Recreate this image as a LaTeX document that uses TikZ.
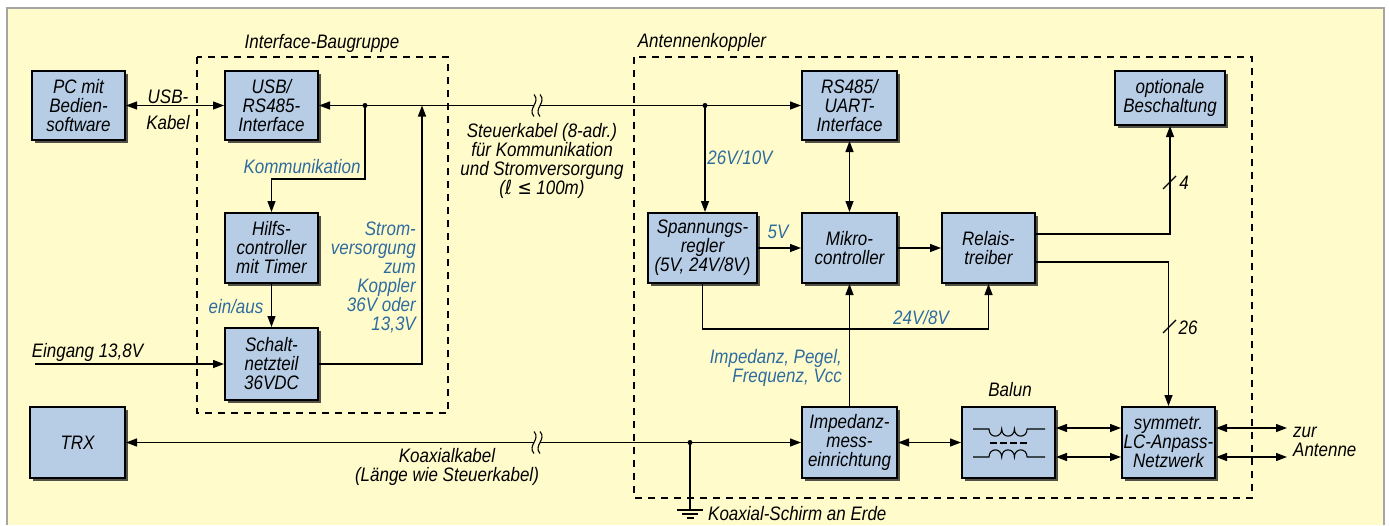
\documentclass[tikz,border=0pt]{standalone}
\usepackage{fontspec}
\setmainfont{Liberation Sans}[FakeStretch=0.87]
\newfontfamily\symfont{DejaVu Sans}[FakeStretch=0.87]
\usepackage{tikz}
\usetikzlibrary{arrows.meta,positioning,shadows,calc}
\definecolor{bgyellow}{RGB}{255,251,203}
\definecolor{boxblue}{RGB}{183,205,229}
\definecolor{lblblue}{RGB}{46,108,160}
\definecolor{framegray}{RGB}{165,165,165}

% cable interruption mark
\newcommand{\cablebreak}[2]{%
  \fill[bgyellow] (#1-3,#2-2.5) rectangle (#1+3,#2+2.5);
  \draw[line width=1.1pt] (#1-3,#2-11) .. controls (#1+4,#2-3) and (#1-10,#2+3) .. (#1-3,#2+11);
  \draw[line width=1.1pt] (#1+3,#2-11) .. controls (#1+10,#2-3) and (#1-4,#2+3) .. (#1+3,#2+11);
}

\begin{document}
\begin{tikzpicture}[x=1pt,y=-1pt,
    >={Triangle[length=11pt,width=8pt]},
    font=\fontsize{19.5}{19}\selectfont\itshape,
    blk/.style={draw=black, line width=2pt, fill=boxblue, align=center, inner sep=1pt,
        drop shadow={shadow xshift=3pt,shadow yshift=-3pt,fill=black!80,opacity=0.85}},
    wire/.style={line width=1.3pt},
    grp/.style={line width=1.2pt, dash pattern=on 7pt off 6pt},
    note/.style={inner sep=0pt, text=lblblue},
    txt/.style={inner sep=0pt}]

\useasboundingbox (0,0) rectangle (1389,525);

% =========================
% background panel
% =========================
\fill[white] (0,0) rectangle (1389,525);
\fill[bgyellow] (7,8) rectangle (1384,525);
\draw[framegray, line width=1.5pt] (7,525) -- (7,8) -- (1384,8) -- (1384,525);

% =========================
% 1. Interface-Baugruppe
% =========================
\draw[grp] (197,57) rectangle (448,413);
\node[txt] (lblifc) at (322,43) {Interface-Baugruppe};

\node[blk, minimum width=93, minimum height=69] (pc) at (78.5,105.5) {PC mit\\Bedien-\\software};
\node[blk, minimum width=93, minimum height=69] (usb) at (271.5,105.5) {USB/\\RS485-\\Interface};
\node[blk, minimum width=93, minimum height=70] (hilfs) at (271.5,248) {Hilfs-\\controller\\mit Timer};
\node[blk, minimum width=93, minimum height=72] (schalt) at (271.5,364) {Schalt-\\netzteil\\36VDC};
\node[blk, minimum width=95, minimum height=71] (trx) at (77.5,442.5) {TRX};

\draw[wire, <->] (pc.east) -- (usb.west);
\node[txt] (lblusb) at (168,97) {USB-};
\node[txt] (lblkabel) at (168,123) {Kabel};

% communication branch
\coordinate (kdot) at (365,105.5);
\fill (kdot) circle (2.5);
\draw[wire, ->] (kdot) -- ++(0,73.5) -| (hilfs.north);
\node[note] (lblkomm) at (302,167) {Kommunikation};

\draw[wire, ->] (hilfs) -- (schalt);
\node[note] (lblein) at (236,307) {ein/aus};

% supply to coupler
\coordinate (pwr) at (422,105.5);
\draw[wire, ->] (schalt.east) -| (pwr);
\node[note, anchor=east, align=right] (lblstrom) at (416,277.5)
    {Strom-\\versorgung\\zum\\Koppler\\36V oder\\13,3V};

\coordinate (eingang) at (35,364);
\draw[wire, ->] (eingang) -- (schalt.west);
\node[txt] (lbleingang) at (87.5,352) {Eingang 13,8V};

% =========================
% 2. Antennenkoppler
% =========================
\draw[grp] (634,57) rectangle (1252,498);
\node[txt] (lblkoppler) at (702,42) {Antennenkoppler};

\node[blk, minimum width=95, minimum height=69] (rsuart) at (849.5,105.5) {RS485/\\UART-\\Interface};
\node[blk, minimum width=110, minimum height=54] (opt) at (1170,98) {optionale\\Beschaltung};
\node[blk, minimum width=109, minimum height=70] (spann) at (702.5,248) {Spannungs-\\regler\\(5V, 24V/8V)};
\node[blk, minimum width=95, minimum height=70] (mikro) at (849.5,248) {Mikro-\\controller};
\node[blk, minimum width=93, minimum height=70] (relais) at (988.5,248) {Relais-\\treiber};
\node[blk, minimum width=95, minimum height=71] (imped) at (849.5,442.5) {Impedanz-\\mess-\\einrichtung};
\node[blk, minimum width=93, minimum height=71] (balun) at (1008.5,442.5) {};
\node[blk, minimum width=93, minimum height=71] (lc) at (1168.5,442.5) {symmetr.\\LC-Anpass-\\Netzwerk};

% balun symbol
\begin{scope}[shift={(balun.center)}, line width=1.1pt]
    \draw (-35.5,-13.5) -- (-19.5,-13.5)
        .. controls (-19.5,-4) and (-6.8,-4) .. (-6.8,-13.5)
        .. controls (-6.8,-4) and (5.9,-4) .. (5.9,-13.5)
        .. controls (5.9,-4) and (18.6,-4) .. (18.6,-13.5) -- (36.5,-13.5);
    \draw[dash pattern=on 7pt off 3pt] (-18.5,0.5) -- (21.5,0.5);
    \draw (-35.5,14.5) -- (-19.5,14.5)
        .. controls (-19.5,5) and (-6.8,5) .. (-6.8,14.5)
        .. controls (-6.8,5) and (5.9,5) .. (5.9,14.5)
        .. controls (5.9,5) and (18.6,5) .. (18.6,14.5) -- (36.5,14.5);
\end{scope}
\node[txt] (lblbalun) at (1010,390) {Balun};

% control cable
\draw[wire, <->] (usb.east) -- (rsuart.west);
\cablebreak{537}{105.5}
\node[txt, align=center] (lblsteuer) at (542,161)
    {Steuerkabel (8-adr.)\\f\"ur Kommunikation\\und Stromversorgung\\({\symfont\itshape ℓ ≤} 100m)};

\coordinate (sdot) at (705,105.5);
\fill (sdot) circle (2.5);
\draw[wire, ->] (sdot) -- (sdot |- spann.north);
\node[note] (lbl26v) at (740,158) {26V/10V};

\draw[wire, <->] (rsuart) -- (mikro);
\draw[wire, ->] (spann) -- (mikro);
\node[note] (lbl5v) at (778,232) {5V};
\draw[wire, ->] (mikro) -- (relais);
\draw[wire, ->] (spann.south) -- ++(0,45) -| (relais.south);
\node[note] (lbl24v) at (921,318) {24V/8V};

\draw[wire, ->] (imped) -- (mikro);
\node[note, anchor=east, align=right] (lblimp) at (842,367.5) {Impedanz, Pegel,\\Frequenz, Vcc};

% relay outputs
\draw[wire, ->] ([yshift=14pt]relais.east) -| (opt.south);
\draw[wire] (1163,189) -- (1176,176);
\node[txt] (lbl4) at (1184,183) {4};
\draw[wire, ->] ([yshift=-14pt]relais.east) -| (lc.north);
\draw[wire] (1163,333) -- (1176,320);
\node[txt] (lbl26) at (1188,328) {26};

% rf path
\draw[wire, <->] (imped) -- (balun);
\draw[wire, <->] ([yshift=14.5pt]balun.east) -- ([yshift=14.5pt]lc.west);
\draw[wire, <->] ([yshift=-14.5pt]balun.east) -- ([yshift=-14.5pt]lc.west);
\coordinate (ant1) at (1287,428);
\coordinate (ant2) at (1287,457);
\draw[wire, <->] ([yshift=14.5pt]lc.east) -- (ant1);
\draw[wire, <->] ([yshift=-14.5pt]lc.east) -- (ant2);
\node[txt, anchor=west, align=left] (lblant) at (1293,442) {zur\\Antenne};

% =========================
% 3. coax cable
% =========================
\draw[wire, <->] (trx.east) -- (imped.west);
\cablebreak{537}{442.5}
\node[txt, align=center] (lblkoax) at (447,466.5) {Koaxialkabel\\(L\"ange wie Steuerkabel)};

\coordinate (gdot) at (690,442.5);
\coordinate (gnd) at (690,510);
\fill (gdot) circle (2.5);
\draw[wire] (gdot) -- (gnd);
\draw[line width=1.5pt] ([xshift=-13pt]gnd) -- ([xshift=13pt]gnd);
\draw[line width=1.5pt] ([xshift=-8pt,yshift=-4pt]gnd) -- ([xshift=8pt,yshift=-4pt]gnd);
\draw[line width=1.5pt] ([xshift=-3.5pt,yshift=-8pt]gnd) -- ([xshift=3.5pt,yshift=-8pt]gnd);
\node[txt, anchor=west] (lblerde) at (708,514) {Koaxial-Schirm an Erde};

\end{tikzpicture}
\end{document}
